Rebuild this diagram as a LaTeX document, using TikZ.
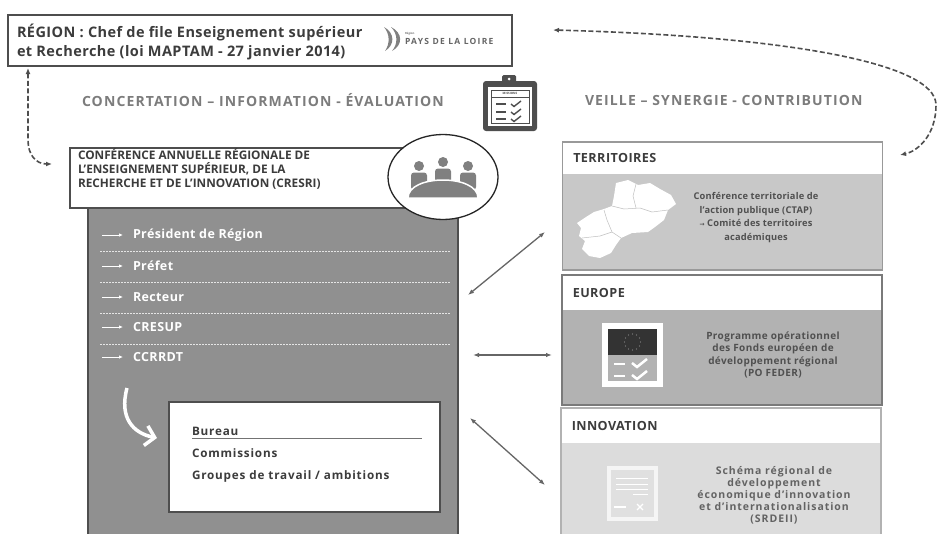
\documentclass[tikz,border=0pt]{standalone}
\usepackage{fontspec}
\setmainfont{Open Sans}
\newfontfamily\symfont{DejaVu Sans}
\usetikzlibrary{arrows.meta,positioning,shapes.geometric}
\definecolor{txtdark}{HTML}{3C3C3C}
\definecolor{txtgray}{HTML}{7C7C7C}
\definecolor{linegray}{HTML}{4E4E4E}
\definecolor{boxgray}{HTML}{909090}
\definecolor{terrfill}{HTML}{C8C8C8}
\definecolor{eurofill}{HTML}{B2B2B2}
\definecolor{innofill}{HTML}{DCDCDC}
\newcommand\spaced[2]{\bfseries\fontsize{#1}{#1}\selectfont\addfontfeatures{LetterSpace=#2}}

\begin{document}
\begin{tikzpicture}
  [x=1pt,y=-1pt,every node/.style={inner sep=0pt,outer sep=0pt},
   frame/.style={draw=linegray,line width=1.6pt},
   title/.style={font=\spaced{14.5}{3}\setlength\baselineskip{19pt},text=txtdark,align=left,anchor=west},
   motto/.style={font=\spaced{14}{8},text=txtgray},
   cresri/.style={font=\bfseries\fontsize{11.8}{14}\selectfont,text=txtdark,align=left,anchor=west},
   item/.style={font=\spaced{12.5}{3},text=white,anchor=west},
   itemarrow/.style={white,line width=0.8pt,-{Latex[length=4pt,width=3.5pt]}},
   sep/.style={white!80!gray,dash pattern=on 2pt off 1pt,line width=0.5pt},
   organ/.style={font=\spaced{11.7}{7},text=txtdark,anchor=west},
   panel/.style={draw=#1,line width=1.5pt,minimum width=320pt},
   panelhead/.style={fill=white,minimum width=318.5pt,anchor=north},
   panelname/.style={font=\spaced{12.6}{3.5},text=txtdark,anchor=west},
   paneltext/.style={text=txtdark!90!white,align=center},
   dasharrow/.style={linegray,line width=1.6pt,dash pattern=on 5pt off 2.5pt,{Latex[length=6pt,width=5pt]}-{Latex[length=6pt,width=5pt]}},
   dblarrow/.style={black!60,line width=1.3pt,{Latex[length=6pt,width=4.5pt]}-{Latex[length=6pt,width=4.5pt]}}]
  \clip (0,0) rectangle (939,533);
  \fill[white] (0,0) rectangle (939,533);

  % region
  \node[frame,minimum width=504pt,minimum height=51pt,anchor=north west] (region) at (8,15) {};
  \node[title] (regiontxt) at (17,41.5) {RÉGION : Chef de file Enseignement supérieur\\et Recherche (loi MAPTAM - 27 janvier 2014)};
  \fill[black!50] (384,27) .. controls (395,33) and (395,45) .. (385,51) .. controls (390,44) and (390,34) .. cycle;
  \fill[black!50] (391,27) .. controls (403,33) and (403,45) .. (392,51) .. controls (398,44) and (398,34) .. cycle;
  \node[font=\bfseries\fontsize{2.8}{3}\selectfont,text=black!55,anchor=west] (logoa) at (405,34) {Région};
  \node[font=\spaced{8.5}{15},text=black!60,anchor=west] (logob) at (405,41) {PAYS DE LA LOIRE};

  \node[motto,anchor=west] (concert) at (82,100) {CONCERTATION – INFORMATION - ÉVALUATION};
  \node[motto,anchor=west] (veille) at (585,100) {VEILLE – SYNERGIE - CONTRIBUTION};

  % clipboard
  \fill[linegray,rounded corners=3pt] (483,81) rectangle (537,131);
  \fill[white] (488,87) rectangle (532,126);
  \draw[linegray,line width=0.9pt] (491,90) rectangle (529,123);
  \draw[linegray,line width=0.5pt] (491,97) -- (529,97);
  \fill[linegray,rounded corners=1.5pt] (502,75) rectangle (516,86);
  \fill[white] (509,79) circle (1.5);
  \node[font=\bfseries\fontsize{3}{3}\selectfont,text=linegray] (missions) at (510,93.5) {MISSIONS};
  \foreach \y in {104,112,119}{
    \draw[linegray,line width=1.6pt] (496,\y) -- (506,\y);
    \draw[linegray,line width=1.4pt] (511,\y) -- (514,\y+2.5) -- (521,\y-3);
  }

  % CRESRI
  \node[frame,fill=boxgray,minimum width=370pt,minimum height=340pt,anchor=north west] (cresribody) at (88,206) {};
  \node[frame,fill=white,minimum width=360pt,minimum height=60pt,anchor=north west] (cresrihead) at (70,148) {};
  \node[cresri] (cresritxt) at (78,169) {CONFÉRENCE ANNUELLE RÉGIONALE DE\\L’ENSEIGNEMENT SUPÉRIEUR, DE LA\\RECHERCHE ET DE L’INNOVATION (CRESRI)};
  \node[ellipse,draw=black!85,line width=1.3pt,fill=white,minimum width=110pt,minimum height=85pt] (meeting) at (443,177) {};
  \begin{scope}[black!50]
    \foreach \x/\y in {419/166,443/162,468/166}{
      \fill (\x,\y) circle (5);
      \fill[rounded corners=3pt] (\x-8,\y+6.5) rectangle (\x+8,\y+24);
    }
    \fill[draw=white,line width=1.5pt] (408,198) .. controls (408,174) and (478,174) .. (478,198) -- cycle;
  \end{scope}

  \foreach \y/\name/\txt in {235/pres/Président de Région,266/prefet/Préfet,297/recteur/Recteur,327/cresup/CRESUP,357/ccrrdt/CCRRDT}{
    \node[item] (\name) at (133,\y) {\txt};
    \draw[itemarrow] ([xshift=-31pt]\name.west) -- ([xshift=-10pt]\name.west);
  }
  \foreach \y in {251,282,313,344}
    \draw[sep] (100,\y) -- (450,\y);

  \coordinate (bendtop) at (127,388);
  \coordinate (bendtip) at (157,438);
  \draw[white,line width=3.5pt,-{Straight Barb[length=9pt,width=20pt]}] (bendtop) .. controls (119,418) and (133,433) .. (bendtip);

  \node[frame,fill=white,minimum width=271pt,minimum height=110pt,anchor=north west] (commbox) at (169,402) {};
  \node[organ] (bureau) at (192,431) {Bureau};
  \draw[black!55,line width=0.8pt] (192,438) -- (422,438);
  \node[organ] (commissions) at (192,453) {Commissions};
  \node[organ] (groupes) at (192,476) {Groupes de travail / ambitions};

  % panels
  \node[panel=black!40,fill=terrfill,minimum height=128pt] (territ) at (722.5,206) {};
  \node[panelhead,minimum height=31pt,below=0.75pt of territ.north] (territhead) {};
  \node[panelname,right=10pt of territhead.west] (territname) {TERRITOIRES};
  \node[panel=black!52,fill=eurofill,minimum height=130pt] (europe) at (722,340) {};
  \node[panelhead,minimum height=34pt,below=0.75pt of europe.north] (europehead) {};
  \node[panelname,right=10pt of europehead.west] (europename) {EUROPE};
  \node[panel=black!30,fill=innofill,minimum height=132pt] (innov) at (721,474) {};
  \node[panelhead,minimum height=34pt,below=0.75pt of innov.north] (innovhead) {};
  \node[panelname,right=10pt of innovhead.west] (innovname) {INNOVATION};

  % map
  \fill[white] (616,183) -- (628,180) -- (638,185) -- (650,183) -- (660,189) -- (671,195) -- (676,204)
    -- (668,210) -- (664,220) -- (655,227) -- (648,232) -- (632,233) -- (621,238) -- (616,245)
    -- (611,253) -- (600,258) -- (589,256) -- (582,249) -- (585,241) -- (579,236) -- (581,228)
    -- (577,223) -- (586,217) -- (594,212) -- (604,209) -- (612,206) -- (614,196) -- cycle;
  \draw[black!25,line width=0.5pt] (636,184) -- (633,196) -- (636,208);
  \draw[black!25,line width=0.5pt] (612,206) -- (624,209) -- (640,208) -- (652,212) -- (668,210);
  \draw[black!25,line width=0.5pt] (604,210) -- (607,220) -- (612,232) -- (621,238);
  \draw[black!25,line width=0.5pt] (582,238) -- (600,236) -- (612,232);
  \node[paneltext,font=\spaced{9.3}{2}\setlength\baselineskip{13.5pt}] (ctap) at (756,217.5) {Conférence territoriale de\\l’action publique (CTAP)\\{\symfont\fontsize{6}{6}\selectfont →} Comité des territoires\\académiques};

  % europe icon
  \fill[white] (602,323) rectangle (663,387);
  \fill[eurofill] (608,329) rectangle (657,381);
  \fill[black!80] (608,329) rectangle (657,355);
  \foreach \a in {0,30,...,330}
    \fill[black!45] (632.5,342)+(\a:8) circle (0.6);
  \foreach \y in {364,376}{
    \draw[white,line width=2.5pt] (614,\y) -- (625,\y);
    \draw[white,line width=2.5pt] (632,\y-1) -- (637,\y+3) -- (647,\y-5);
  }
  \node[paneltext,font=\spaced{10}{4}\setlength\baselineskip{12.3pt}] (feder) at (773,355) {Programme opérationnel\\des Fonds européen de\\développement régional\\(PO FEDER)};

  % innovation icon
  \fill[white!96!black] (607,466) rectangle (658,521);
  \fill[white!88!black] (611,470) rectangle (654,517);
  \foreach \y in {478,484,489}
    \draw[white,line width=1pt] (616,\y) -- (648,\y);
  \draw[white,line width=1pt] (633,494) -- (648,494);
  \draw[white,line width=1.3pt] (614,507) -- (626,507);
  \draw[white,line width=1.3pt] (637,504) -- (643,510) (637,510) -- (643,504);
  \node[paneltext,text=txtdark!80!white,font=\spaced{10.5}{9}\setlength\baselineskip{12pt}] (srdeii) at (774,495.5) {Schéma régional de\\développement\\économique d’innovation\\et d’internationalisation\\(SRDEII)};

  % liens
  \coordinate (regionout) at (28,68);
  \coordinate (cresriin) at (52,164);
  \coordinate (regionback) at (553,30);
  \coordinate (territin) at (900,155);
  \draw[dasharrow] (regionout) -- (28,140) .. controls (28,155) and (36,164) .. (cresriin);
  \draw[dasharrow] (regionback) .. controls (780,36) and (936,62) .. (936,105) .. controls (936,135) and (918,151) .. (territin);
  \coordinate (a1) at (468,295);
  \coordinate (b1) at (545,232);
  \coordinate (a2) at (473,355);
  \coordinate (b2) at (552,355);
  \coordinate (a3) at (470,418);
  \coordinate (b3) at (545,485);
  \foreach \from/\to in {a1/b1,a2/b2,a3/b3}
    \draw[dblarrow] (\from) -- (\to);
\end{tikzpicture}
\end{document}
